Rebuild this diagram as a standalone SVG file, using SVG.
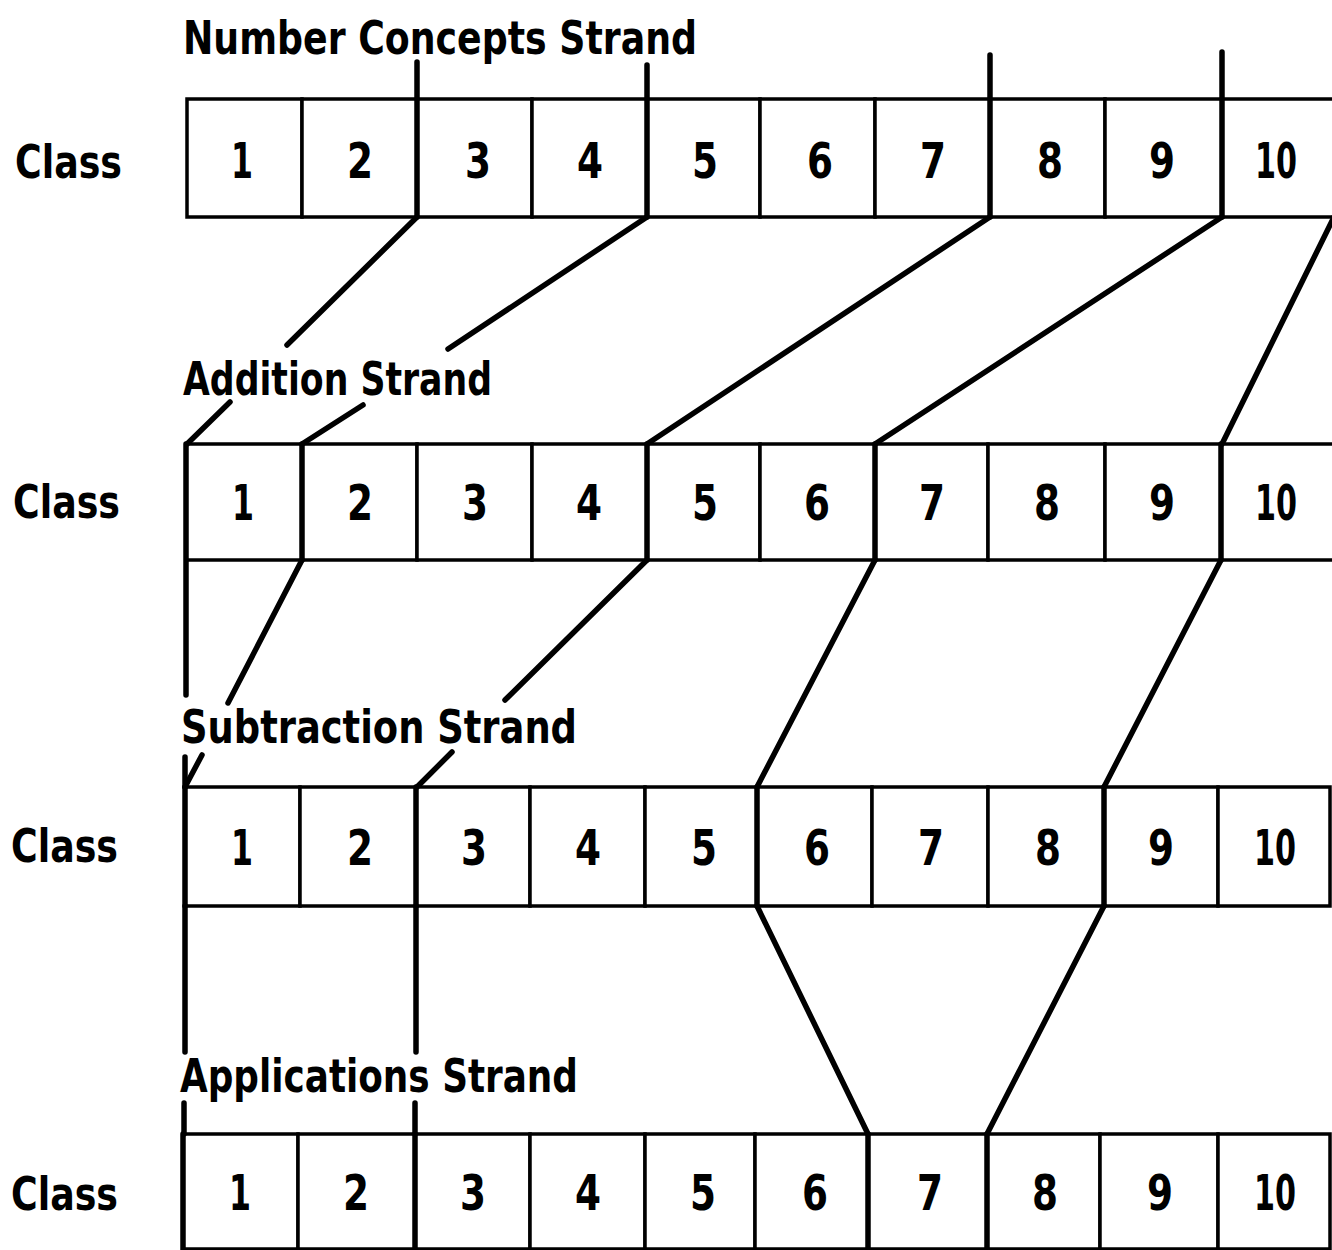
<svg xmlns="http://www.w3.org/2000/svg" width="1332" height="1250" viewBox="0 0 1332 1250">
<style>
  .cell{fill:#fff;stroke:#000;stroke-width:3.5}
  .num{font-family:"DejaVu Sans Condensed","Liberation Sans Narrow","Liberation Sans",sans-serif;font-weight:bold;font-size:50px;text-anchor:middle;fill:#000}
  .lbl{font-family:"DejaVu Sans Condensed","Liberation Sans Narrow","Liberation Sans",sans-serif;font-weight:bold;font-size:46px;fill:#000}
  .con{fill:none;stroke:#000;stroke-width:5.5;stroke-linecap:round}
</style>
<rect width="1332" height="1250" fill="#fff"/>

<!-- Labels -->
<g id="labels">
  <text class="lbl" x="183" y="54" textLength="514" lengthAdjust="spacingAndGlyphs">Number Concepts Strand</text>
  <text class="lbl" x="183" y="395" textLength="309" lengthAdjust="spacingAndGlyphs">Addition Strand</text>
  <text class="lbl" x="181" y="743" textLength="396" lengthAdjust="spacingAndGlyphs">Subtraction Strand</text>
  <text class="lbl" x="180" y="1092" textLength="398" lengthAdjust="spacingAndGlyphs">Applications Strand</text>
  <text class="lbl" x="15" y="178" textLength="107" lengthAdjust="spacingAndGlyphs">Class</text>
  <text class="lbl" x="13" y="518" textLength="107" lengthAdjust="spacingAndGlyphs">Class</text>
  <text class="lbl" x="11" y="862" textLength="107" lengthAdjust="spacingAndGlyphs">Class</text>
  <text class="lbl" x="11" y="1210" textLength="107" lengthAdjust="spacingAndGlyphs">Class</text>
</g>

<!-- Row 1: Number Concepts Strand -->
<g id="row1">
  <g id="r1c1"><rect class="cell" x="187" y="99" width="115" height="118"/><text class="num" x="242" y="178" textLength="22" lengthAdjust="spacingAndGlyphs">1</text></g>
  <g id="r1c2"><rect class="cell" x="302" y="99" width="115" height="118"/><text class="num" x="360" y="178" textLength="26" lengthAdjust="spacingAndGlyphs">2</text></g>
  <g id="r1c3"><rect class="cell" x="417" y="99" width="115" height="118"/><text class="num" x="478" y="178" textLength="26" lengthAdjust="spacingAndGlyphs">3</text></g>
  <g id="r1c4"><rect class="cell" x="532" y="99" width="115" height="118"/><text class="num" x="590" y="178" textLength="26" lengthAdjust="spacingAndGlyphs">4</text></g>
  <g id="r1c5"><rect class="cell" x="647" y="99" width="113" height="118"/><text class="num" x="705" y="178" textLength="26" lengthAdjust="spacingAndGlyphs">5</text></g>
  <g id="r1c6"><rect class="cell" x="760" y="99" width="115" height="118"/><text class="num" x="820" y="178" textLength="26" lengthAdjust="spacingAndGlyphs">6</text></g>
  <g id="r1c7"><rect class="cell" x="875" y="99" width="115" height="118"/><text class="num" x="933" y="178" textLength="26" lengthAdjust="spacingAndGlyphs">7</text></g>
  <g id="r1c8"><rect class="cell" x="990" y="99" width="115" height="118"/><text class="num" x="1050" y="178" textLength="26" lengthAdjust="spacingAndGlyphs">8</text></g>
  <g id="r1c9"><rect class="cell" x="1105" y="99" width="117" height="118"/><text class="num" x="1162" y="178" textLength="26" lengthAdjust="spacingAndGlyphs">9</text></g>
  <g id="r1c10"><rect class="cell" x="1222" y="99" width="130" height="118"/><text class="num" x="1276" y="178" textLength="42" lengthAdjust="spacingAndGlyphs">10</text></g>
</g>

<!-- Row 2: Addition Strand -->
<g id="row2">
  <g id="r2c1"><rect class="cell" x="186" y="444" width="116" height="116"/><text class="num" x="243" y="520" textLength="22" lengthAdjust="spacingAndGlyphs">1</text></g>
  <g id="r2c2"><rect class="cell" x="302" y="444" width="115" height="116"/><text class="num" x="360" y="520" textLength="26" lengthAdjust="spacingAndGlyphs">2</text></g>
  <g id="r2c3"><rect class="cell" x="417" y="444" width="115" height="116"/><text class="num" x="475" y="520" textLength="26" lengthAdjust="spacingAndGlyphs">3</text></g>
  <g id="r2c4"><rect class="cell" x="532" y="444" width="115" height="116"/><text class="num" x="589" y="520" textLength="26" lengthAdjust="spacingAndGlyphs">4</text></g>
  <g id="r2c5"><rect class="cell" x="647" y="444" width="113" height="116"/><text class="num" x="705" y="520" textLength="26" lengthAdjust="spacingAndGlyphs">5</text></g>
  <g id="r2c6"><rect class="cell" x="760" y="444" width="115" height="116"/><text class="num" x="817" y="520" textLength="26" lengthAdjust="spacingAndGlyphs">6</text></g>
  <g id="r2c7"><rect class="cell" x="875" y="444" width="113" height="116"/><text class="num" x="932" y="520" textLength="26" lengthAdjust="spacingAndGlyphs">7</text></g>
  <g id="r2c8"><rect class="cell" x="988" y="444" width="117" height="116"/><text class="num" x="1047" y="520" textLength="26" lengthAdjust="spacingAndGlyphs">8</text></g>
  <g id="r2c9"><rect class="cell" x="1105" y="444" width="116" height="116"/><text class="num" x="1162" y="520" textLength="26" lengthAdjust="spacingAndGlyphs">9</text></g>
  <g id="r2c10"><rect class="cell" x="1221" y="444" width="131" height="116"/><text class="num" x="1276" y="520" textLength="42" lengthAdjust="spacingAndGlyphs">10</text></g>
</g>

<!-- Row 3: Subtraction Strand -->
<g id="row3">
  <g id="r3c1"><rect class="cell" x="185" y="787" width="115" height="119"/><text class="num" x="242" y="865" textLength="22" lengthAdjust="spacingAndGlyphs">1</text></g>
  <g id="r3c2"><rect class="cell" x="300" y="787" width="116" height="119"/><text class="num" x="360" y="865" textLength="26" lengthAdjust="spacingAndGlyphs">2</text></g>
  <g id="r3c3"><rect class="cell" x="416" y="787" width="114" height="119"/><text class="num" x="474" y="865" textLength="26" lengthAdjust="spacingAndGlyphs">3</text></g>
  <g id="r3c4"><rect class="cell" x="530" y="787" width="115" height="119"/><text class="num" x="588" y="865" textLength="26" lengthAdjust="spacingAndGlyphs">4</text></g>
  <g id="r3c5"><rect class="cell" x="645" y="787" width="112" height="119"/><text class="num" x="704" y="865" textLength="26" lengthAdjust="spacingAndGlyphs">5</text></g>
  <g id="r3c6"><rect class="cell" x="757" y="787" width="115" height="119"/><text class="num" x="817" y="865" textLength="26" lengthAdjust="spacingAndGlyphs">6</text></g>
  <g id="r3c7"><rect class="cell" x="872" y="787" width="116" height="119"/><text class="num" x="931" y="865" textLength="26" lengthAdjust="spacingAndGlyphs">7</text></g>
  <g id="r3c8"><rect class="cell" x="988" y="787" width="116" height="119"/><text class="num" x="1048" y="865" textLength="26" lengthAdjust="spacingAndGlyphs">8</text></g>
  <g id="r3c9"><rect class="cell" x="1104" y="787" width="114" height="119"/><text class="num" x="1161" y="865" textLength="26" lengthAdjust="spacingAndGlyphs">9</text></g>
  <g id="r3c10"><rect class="cell" x="1218" y="787" width="112" height="119"/><text class="num" x="1275" y="865" textLength="42" lengthAdjust="spacingAndGlyphs">10</text></g>
</g>

<!-- Row 4: Applications Strand -->
<g id="row4">
  <g id="r4c1"><rect class="cell" x="183" y="1134" width="115" height="115"/><text class="num" x="240" y="1210" textLength="22" lengthAdjust="spacingAndGlyphs">1</text></g>
  <g id="r4c2"><rect class="cell" x="298" y="1134" width="117" height="115"/><text class="num" x="356" y="1210" textLength="26" lengthAdjust="spacingAndGlyphs">2</text></g>
  <g id="r4c3"><rect class="cell" x="415" y="1134" width="115" height="115"/><text class="num" x="473" y="1210" textLength="26" lengthAdjust="spacingAndGlyphs">3</text></g>
  <g id="r4c4"><rect class="cell" x="530" y="1134" width="115" height="115"/><text class="num" x="588" y="1210" textLength="26" lengthAdjust="spacingAndGlyphs">4</text></g>
  <g id="r4c5"><rect class="cell" x="645" y="1134" width="110" height="115"/><text class="num" x="703" y="1210" textLength="26" lengthAdjust="spacingAndGlyphs">5</text></g>
  <g id="r4c6"><rect class="cell" x="755" y="1134" width="113" height="115"/><text class="num" x="815" y="1210" textLength="26" lengthAdjust="spacingAndGlyphs">6</text></g>
  <g id="r4c7"><rect class="cell" x="868" y="1134" width="119" height="115"/><text class="num" x="930" y="1210" textLength="26" lengthAdjust="spacingAndGlyphs">7</text></g>
  <g id="r4c8"><rect class="cell" x="987" y="1134" width="113" height="115"/><text class="num" x="1045" y="1210" textLength="26" lengthAdjust="spacingAndGlyphs">8</text></g>
  <g id="r4c9"><rect class="cell" x="1100" y="1134" width="118" height="115"/><text class="num" x="1160" y="1210" textLength="26" lengthAdjust="spacingAndGlyphs">9</text></g>
  <g id="r4c10"><rect class="cell" x="1218" y="1134" width="112" height="115"/><text class="num" x="1275" y="1210" textLength="42" lengthAdjust="spacingAndGlyphs">10</text></g>
</g>

<!-- Connectors -->
<g id="connectors" class="con">
  <!-- Row 1 strand boundaries -->
  <path class="con" d="M417 62 V217 M647 65 V217 M990 55 V217 M1222 52 V217"/>
  <!-- Row 1 to Row 2 -->
  <path class="con" d="M417 217 L287 345 M230 402 L187 444"/>
  <path class="con" d="M647 217 L448 349 M363 405 L302 444"/>
  <path class="con" d="M990 217 L647 444"/>
  <path class="con" d="M1222 217 L875 444"/>
  <path class="con" d="M1334 217 L1222 444"/>
  <!-- Row 2 strand boundaries -->
  <path class="con" d="M302 444 V560 M647 444 V560 M875 444 V560 M1221 444 V560"/>
  <!-- Row 2 to Row 3 -->
  <path class="con" d="M186 444 V695 M185 757 V787"/>
  <path class="con" d="M302 560 L228 703 M202 755 L185 787"/>
  <path class="con" d="M647 560 L505 700 M452 752 L417 787"/>
  <path class="con" d="M875 560 L757 787"/>
  <path class="con" d="M1221 560 L1104 787"/>
  <!-- Row 3 strand boundaries -->
  <path class="con" d="M185 787 V906 M416 787 V906 M757 787 V906 M1104 787 V906"/>
  <!-- Row 3 to Row 4 -->
  <path class="con" d="M185 906 V1052 M184 1103 V1134"/>
  <path class="con" d="M416 906 V1052 M415 1103 V1134"/>
  <path class="con" d="M757 906 L868 1134"/>
  <path class="con" d="M1104 906 L987 1134"/>
  <!-- Row 4 strand boundaries -->
  <path class="con" d="M183 1134 V1250 M415 1134 V1250 M868 1134 V1250 M987 1134 V1250"/>
</g>
</svg>
